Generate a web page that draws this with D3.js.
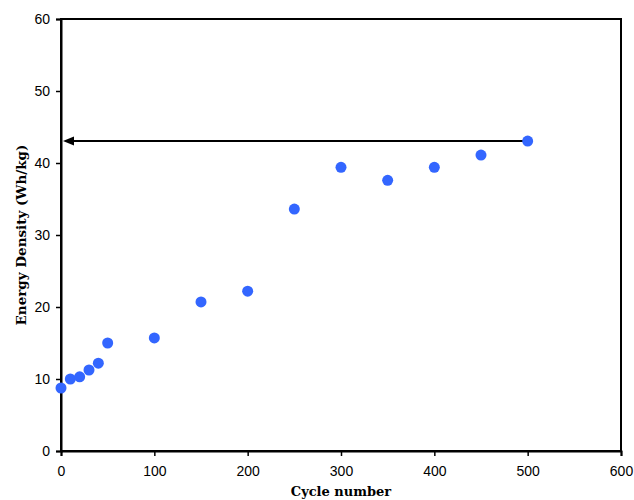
<!DOCTYPE html>
<html><head><meta charset="utf-8">
<script src="https://cdn.jsdelivr.net/npm/d3@7"></script>
<style>body{margin:0;background:#fff}</style>
</head><body>
<script>
const cycles = [0,10,20,30,40,50,100,150,200,250,300,350,400,450,500];
const energy = [8.75,10.0,10.3,11.25,12.2,15.0,15.7,20.7,22.2,33.6,39.4,37.6,39.4,41.1,43.05];
const xTicks = [0,100,200,300,400,500,600];
const yTicks = [0,10,20,30,40,50,60];
const arrowFrom = [500,43.05], arrowTo = [0,43.05];

const W=634,H=500, m={l:61,t:19,r:13,b:49};
const svg=d3.select("body").append("svg").attr("width",W).attr("height",H);
const x=d3.scaleLinear().domain([0,600]).range([m.l,W-m.r]);
const y=d3.scaleLinear().domain([0,60]).range([H-m.b,m.t]);

svg.append("rect").attr("x",m.l).attr("y",m.t).attr("width",x(600)-m.l).attr("height",y(0)-m.t)
  .attr("fill","none").attr("stroke","#000").attr("stroke-width",2);

const fx=d3.axisBottom(x).tickValues(xTicks).tickSize(5).tickPadding(10);
const fy=d3.axisLeft(y).tickValues(yTicks).tickSize(5).tickPadding(6);
const gx=svg.append("g").attr("transform",`translate(0,${y(0)})`).call(fx);
const gy=svg.append("g").attr("transform",`translate(${m.l},0)`).call(fy);
[gx,gy].forEach(g=>{g.select(".domain").attr("stroke","#000").attr("stroke-width",2);
 g.selectAll("line").attr("stroke","#000").attr("stroke-width",1.5);
 g.selectAll("text").attr("font-family","Liberation Sans, Arial, sans-serif").attr("font-size",14).attr("fill","#000");});

const headLen=11, headH=9;
svg.append("path")
 .attr("d",`M${x(arrowTo[0])+2},${y(arrowTo[1])}l${headLen},${-headH/2}l0,${headH}Z`).attr("fill","#000");
svg.append("line").attr("x1",x(arrowFrom[0])).attr("y1",y(arrowFrom[1])).attr("x2",x(arrowTo[0])+2+headLen).attr("y2",y(arrowTo[1]))
 .attr("stroke","#000").attr("stroke-width",2);

svg.append("g").selectAll("circle").data(cycles).join("circle")
 .attr("cx",(d)=>x(d)).attr("cy",(d,i)=>y(energy[i])).attr("r",5.5).attr("fill","#3366ff");

svg.append("text").attr("x",(m.l+x(600))/2).attr("y",496).attr("text-anchor","middle")
 .attr("font-family","DejaVu Serif, serif").attr("font-weight","bold").attr("font-size",13).text("Cycle number");
svg.append("text").attr("transform",`translate(26,${(m.t+y(0))/2}) rotate(-90)`).attr("text-anchor","middle")
 .attr("font-family","DejaVu Serif, serif").attr("font-weight","bold").attr("font-size",13.5).text("Energy Density (Wh/kg)");
</script>
</body></html>
